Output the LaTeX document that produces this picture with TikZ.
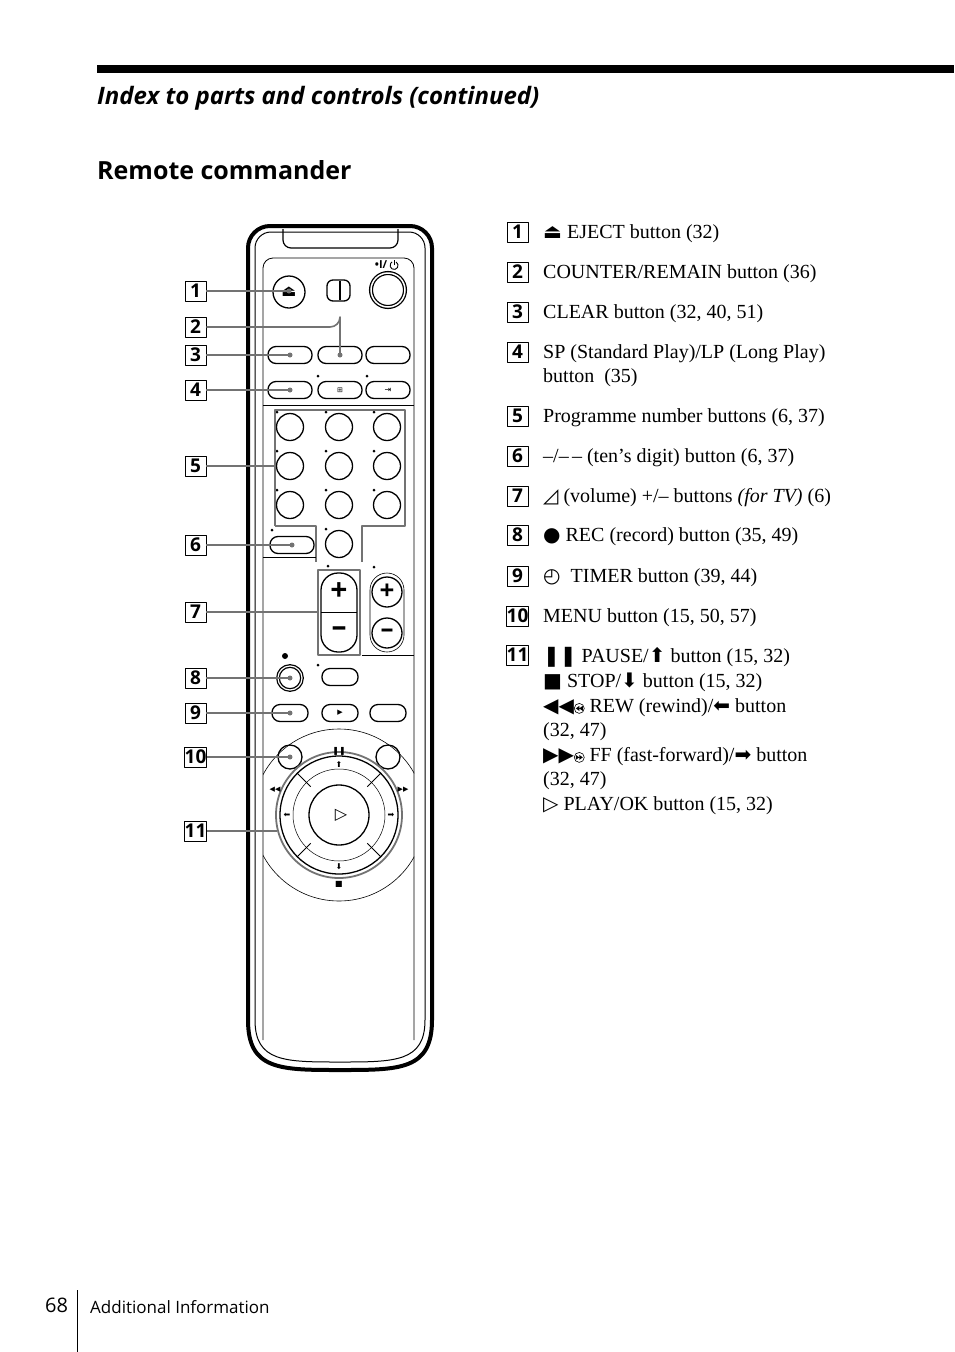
\documentclass[tikz,border=0pt]{standalone}
\usepackage{fontspec}
\usetikzlibrary{calc}
\setmainfont{Liberation Serif}
\setsansfont{Open Sans}
\newfontfamily\symfont{DejaVu Sans}
\newcommand{\rewicon}{\tikz[baseline=-4pt,x=1pt,y=1pt]{\draw[line width=0.6pt] (0,0) circle (5); \fill (-3.5,0) -- (0,2.5) -- (0,-2.5) -- cycle (0,0) -- (3.5,2.5) -- (3.5,-2.5) -- cycle;}}
\newcommand{\ffwicon}{\tikz[baseline=-4pt,x=1pt,y=1pt]{\draw[line width=0.6pt] (0,0) circle (5); \fill (3.5,0) -- (0,2.5) -- (0,-2.5) -- cycle (0,0) -- (-3.5,2.5) -- (-3.5,-2.5) -- cycle;}}
\newcommand{\powicon}{\tikz[baseline=-3.5pt,x=1pt,y=1pt]{\draw[line width=0.9pt] (60:4) arc (60:-240:4); \draw[line width=0.9pt] (0,0) -- (0,5.5);}}
\begin{document}
\begin{tikzpicture}[x=1pt, y=-1pt, line join=round,
		numbox/.style={draw=black,line width=0.9pt,minimum width=21pt,minimum height=20pt,inner sep=0pt,font=\fontsize{19}{19}\sffamily\bfseries},
		item_style/.style={anchor=north west,inner sep=0pt,align=left,font=\fontsize{20}{26}\selectfont},
		callout/.style={draw=black!55,line width=1.6pt},
		oval_style/.style={draw=black,line width=1.3pt,rounded corners=8pt},
		btn_style/.style={draw=black,line width=1.3pt},
		frame_style/.style={draw=black!55,line width=1.6pt}]
		
		\useasboundingbox (0,0) rectangle (954,1352);
		% heading
		\fill (97,65) rectangle (954,73);
		\node[anchor=base west,inner sep=0pt,font=\fontsize{24}{24}\sffamily\bfseries\itshape] (title) at (97,104) {Index to parts and controls (continued)};
		\node[anchor=base west,inner sep=0pt,font=\fontsize{25}{25}\sffamily\bfseries] (sub) at (97,179) {Remote commander};
		
		% remote body
		\draw[line width=4pt] (248,700) [rounded corners=22pt] -- (248,226) -- (432,226) -- (432,700) [sharp corners] -- (432,1020) .. controls (432,1070) and (400,1070) .. (340,1070) .. controls (280,1070) and (248,1070) .. (248,1020) -- cycle;
		\draw[line width=1pt] (255,700) [rounded corners=16pt] -- (255,232) -- (425,232) -- (425,700) [sharp corners] -- (425,1020) .. controls (425,1062) and (395,1062) .. (340,1062) .. controls (285,1062) and (255,1062) .. (255,1020) -- cycle;
		\draw[line width=1.2pt,rounded corners=8pt] (283,229) -- (283,248) -- (398,248) -- (398,229);
		\draw[line width=0.8pt,rounded corners=10pt] (263,1040) -- (263,258) -- (414,258) -- (414,1040);
		\draw[line width=0.8pt] (263,405) -- (414,405);
		\draw[line width=0.8pt] (362,655) -- (414,655);
		\begin{scope}
			\clip (263,700) rectangle (414,1040);
			\draw[line width=0.6pt] (339,815) circle (86);
		\end{scope}
		
		% top buttons
		\node[btn_style,circle,minimum size=32pt,inner sep=0pt] (eject) at (289,292) {\symfont\fontsize{16}{16}\selectfont ⏏};
		\draw[btn_style,rounded corners=6pt] (327,280) rectangle (350,301);
		\draw[line width=2pt] (340,281) -- (340,300);
		\node[btn_style,circle,double,double distance=1.5pt,minimum size=34pt] (power) at (388,290) {};
		\node[font=\fontsize{11}{11}\sffamily\bfseries,inner sep=0pt] (powlbl) at (387,265) {•I/\,\powicon};
		\foreach \x/\n in {290/a,340/b,388/c}{
			\node[oval_style,minimum width=44pt,minimum height=17pt,inner sep=0pt] (r3\n) at (\x,355) {};
			\node[oval_style,minimum width=44pt,minimum height=17pt,inner sep=0pt] (r4\n) at (\x,390) {};
		}
		\node[font=\fontsize{7}{7}\symfont,inner sep=0pt] (wide) at (340,390) {⊞};
		\node[font=\fontsize{8}{8}\symfont,inner sep=0pt] (input) at (388,390) {⇥};
		\fill (318,376) circle (1.5) (367,376) circle (1.5);
		
		% number buttons
		\foreach \x in {290,339,387}{
			\foreach \y in {427,466,505}{
				\draw[btn_style] (\x,\y) circle (13.5);
				\fill (\x-13,\y-15) circle (1.5);
			}
		}
		\draw[btn_style] (339,544) circle (13.5);
		\fill (326,529) circle (1.5) (272,530) circle (1.5);
		\node[oval_style,minimum width=44pt,minimum height=17pt,inner sep=0pt] (tens) at (292,545) {};
		\draw[frame_style] (275,526) -- (275,410) -- (405,410) -- (405,526) -- (362,526) -- (362,562);
		\draw[frame_style] (275,526) -- (316,526) -- (316,562);
		\draw[line width=0.8pt] (263,557) -- (316,557);
		
		% volume and programme
		\draw[btn_style,rounded corners=17pt] (321,573) rectangle (357,652);
		\draw[line width=0.8pt] (321,612) -- (357,612);
		\node[font=\fontsize{30}{30}\sffamily\bfseries,inner sep=0pt] (vplus) at (339,592) {+};
		\node[font=\fontsize{30}{30}\sffamily\bfseries,inner sep=0pt] (vminus) at (339,632) {–};
		\draw[frame_style] (318,570) rectangle (360,655);
		\draw[line width=0.6pt,rounded corners=17pt] (370,573) rectangle (404,652);
		\node[btn_style,circle,minimum size=30pt,inner sep=0pt,font=\fontsize{26}{26}\sffamily\bfseries] (pplus) at (387,592) {+};
		\node[btn_style,circle,minimum size=30pt,inner sep=0pt,font=\fontsize{26}{26}\sffamily\bfseries] (pminus) at (387,633) {–};
		\fill (328,566) circle (1.5) (374,567) circle (1.5);
		
		% rec, timer row
		\fill (285,656) circle (3);
		\node[btn_style,circle,double,double distance=1.2pt,minimum size=24pt] (rec) at (290,678) {};
		\node[oval_style,minimum width=36pt,minimum height=17pt,inner sep=0pt] (recb) at (340,677) {};
		\fill (318,665) circle (1.5);
		\node[oval_style,minimum width=36pt,minimum height=17pt,inner sep=0pt] (timer) at (290,713) {};
		\node[oval_style,minimum width=36pt,minimum height=17pt,inner sep=0pt,font=\fontsize{7}{7}\symfont] (slow) at (340,713) {▶};
		\node[oval_style,minimum width=36pt,minimum height=17pt,inner sep=0pt] (r9c) at (388,713) {};
		
		% menu and jog ring
		\draw[btn_style] (290,757) circle (12);
		\draw[btn_style] (388,757) circle (12);
		\draw[line width=1.8pt,black!55] (339,815) circle (63);
		\draw[line width=1.3pt] (339,815) circle (59);
		\draw[line width=0.5pt] (339,815) circle (46);
		\draw[line width=1.3pt] (339,815) circle (30);
		\foreach \a in {45,135,225,315}{
			\draw[line width=1pt] ($(339,815)+(\a:40)$) -- ($(339,815)+(\a:59)$);
		}
		\node[font=\fontsize{16}{16}\symfont,inner sep=0pt] (play) at (341,815) {▷};
		\node[font=\fontsize{8}{8}\symfont,inner sep=0pt] (aup) at (339,764) {⬆};
		\node[font=\fontsize{8}{8}\symfont,inner sep=0pt] (adn) at (339,867) {⬇};
		\node[font=\fontsize{8}{8}\symfont,inner sep=0pt] (alf) at (287,815) {⬅};
		\node[font=\fontsize{8}{8}\symfont,inner sep=0pt] (art) at (391,815) {➡};
		\node[font=\fontsize{8}{8}\symfont,inner sep=0pt] (pau) at (339,751) {❚❚};
		\node[font=\fontsize{8}{8}\symfont,inner sep=0pt] (stp) at (339,884) {■};
		\node[font=\fontsize{7}{7}\symfont,inner sep=0pt] (rew) at (275,790) {◀◀};
		\node[font=\fontsize{7}{7}\symfont,inner sep=0pt] (ffw) at (403,790) {▶▶};
		
		% callouts
		\foreach \n/\y in {1/291,2/327,3/355,4/390,5/466,6/545,7/612,8/678,9/713,10/757,11/831}{
			\node[numbox] (c\n) at (195.5,\y) {\n};
		}
		\draw[callout] (c1) -- (289,291);
		\draw[callout] (c2) -- (330,327) arc (90:0:10) -- (340,355);
		\draw[callout] (c3) -- (290,355);
		\draw[callout] (c4) -- (290,390);
		\draw[callout] (c5) -- (275,466);
		\draw[callout] (c6) -- (292,545);
		\draw[callout] (c7) -- (318,612);
		\draw[callout] (c8) -- (290,678);
		\draw[callout] (c9) -- (290,713);
		\draw[callout] (c10) -- (290,757);
		\draw[callout] (c11) -- (277,831);
		\foreach \p in {(289,291),(340,355),(290,355),(290,390),(292,545),(290,678),(290,713),(290,757)}{
			\fill[black!55] \p circle (2.5);
		}
		
		% index list
		\foreach \n/\y in {1/232,2/272,3/312,4/352,5/416,6/456,7/496,8/535,9/576,10/616,11/655}{
			\node[numbox] (k\n) at (517.5,\y) {\n};
		}
		\node[item_style] (t1) at (543,224) {{\symfont ⏏} EJECT button (32)};
		\node[item_style] (t2) at (543,264) {COUNTER/REMAIN button (36)};
		\node[item_style] (t3) at (543,304) {CLEAR button (32, 40, 51)};
		\node[item_style] (t4) at (543,344) {SP (Standard Play)/LP (Long Play)\\[-2pt]button\ \ (35)};
		\node[item_style] (t5) at (543,408) {Programme number buttons (6, 37)};
		\node[item_style] (t6) at (543,448) {–/–\,– (ten’s digit) button (6, 37)};
		\node[item_style] (t7) at (543,488) {{\symfont ◿} (volume) +/– buttons \textit{(for TV)} (6)};
		\node[item_style] (t8) at (543,527) {{\symfont ●} REC (record) button (35, 49)};
		\node[item_style] (t9) at (543,568) {{\symfont ◴}\ \ TIMER button (39, 44)};
		\node[item_style] (t10) at (543,608) {MENU button (15, 50, 57)};
		\node[item_style] (t11) at (543,647) {{\symfont ❚❚} PAUSE/{\symfont ⬆} button (15, 32)\\[-1pt]
			{\symfont ■} STOP/{\symfont ⬇} button (15, 32)\\[-1pt]
			{\symfont ◀◀}\rewicon\ REW (rewind)/{\symfont ⬅} button\\[-2pt]
			(32, 47)\\[-1pt]
			{\symfont ▶▶}\ffwicon\ FF (fast-forward)/{\symfont ➡} button\\[-2pt]
			(32, 47)\\[-1pt]
			{\symfont ▷} PLAY/OK button (15, 32)};
		
		% footer
		\node[anchor=base west,inner sep=0pt,font=\fontsize{20}{20}\sffamily] (page) at (45,1312) {68};
		\draw[line width=0.8pt] (77,1290) -- (77,1352);
		\node[anchor=base west,inner sep=0pt,font=\fontsize{17}{17}\sffamily] (foot) at (90,1313) {Additional Information};
		
\end{tikzpicture}
\end{document}
